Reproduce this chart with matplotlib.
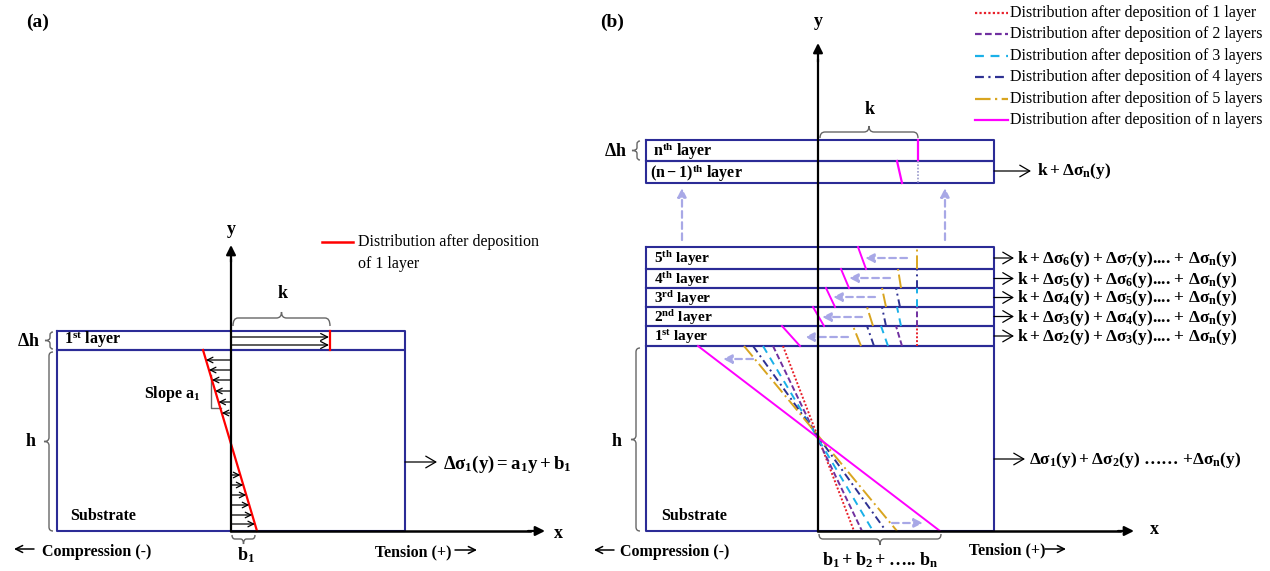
import numpy as np
import matplotlib
matplotlib.use('Agg')
import matplotlib.pyplot as plt
from matplotlib.path import Path
from matplotlib.patches import PathPatch

plt.rcParams['font.family'] = ['Liberation Serif', 'DejaVu Serif']
plt.rcParams['mathtext.fontset'] = 'custom'
plt.rcParams['mathtext.rm'] = 'Liberation Serif:bold'
plt.rcParams['mathtext.it'] = 'Liberation Serif:bold'
plt.rcParams['mathtext.bf'] = 'Liberation Serif:bold'

# ---------------- panel (a) values (pixel frame, y grows downward)
a_box_x = [57, 405]
a_layer_y = [331, 350]
a_sub_y = [350, 531]
a_axis_x = 231
a_k_x = 330
a_line_x = [203, 257]            # red line at top / bottom of substrate
a_layer_arrow_y = [337, 345]
a_comp_arrow_y = [360, 370, 380, 391, 402, 413]
a_tens_arrow_y = [475, 485, 495, 505, 515, 524]

# ---------------- panel (b) values
b_box_x = [646, 994]
b_axis_x = 818
b_top_y = [140, 161, 183]        # n-th and (n-1)-th layers
b_layer_y = [346, 326, 307, 288, 269, 247]   # bottom of 1st ... top of 5th
b_sub_y = [346, 531]
b_k_x = 917
layer_names = ['1$^{\\mathrm{st}}$ layer', '2$^{\\mathrm{nd}}$ layer', '3$^{\\mathrm{rd}}$ layer',
               '4$^{\\mathrm{th}}$ layer', '5$^{\\mathrm{th}}$ layer']
layer_sums = [r'$k + \Delta\sigma_2(y) + \Delta\sigma_3(y)$.... + $\Delta\sigma_n(y)$',
              r'$k + \Delta\sigma_3(y) + \Delta\sigma_4(y)$.... + $\Delta\sigma_n(y)$',
              r'$k + \Delta\sigma_4(y) + \Delta\sigma_5(y)$.... + $\Delta\sigma_n(y)$',
              r'$k + \Delta\sigma_5(y) + \Delta\sigma_6(y)$.... + $\Delta\sigma_n(y)$',
              r'$k + \Delta\sigma_6(y) + \Delta\sigma_7(y)$.... + $\Delta\sigma_n(y)$']

# x of each distribution inside layers 1..: (at layer bottom, at layer top)
red_layers = [(917, 917)]
purple_layers = [(902, 896), (917, 917)]
cyan_layers = [(888, 881), (901, 897), (917, 917)]
navy_layers = [(874, 867), (886, 882), (900, 896), (917, 917)]
gold_layers = [(861, 853), (873, 867), (886, 882), (901, 898), (917, 917)]
magenta_layers = [(800, 782), (824, 813), (835, 826), (849, 841), (866, 858)]
# x of each distribution in substrate: top, bottom
sub_top_x = [783, 773, 763, 753, 744, 698]
sub_bot_x = [854, 862, 873, 886, 897, 940]

dist_labels = ['Distribution after deposition of 1 layer',
               'Distribution after deposition of 2 layers',
               'Distribution after deposition of 3 layers',
               'Distribution after deposition of 4 layers',
               'Distribution after deposition of 5 layers',
               'Distribution after deposition of n layers']
dist_colors = ['#e8202a', '#7030a0', '#1ab0e8', '#2e3192', '#d9a520', '#ff00ff']
dist_ls = [(0, (1, 1)), (0, (3, 1.5)), (0, (4, 3)), (0, (4, 2, 1, 2)), (0, (7, 2, 1, 2)), '-']

# lavender shift arrows: (from x, to x, y)
shift_arrows = [(848, 805, 337), (862, 822, 317), (875, 833, 297), (890, 849, 278),
                (907, 865, 258), (753, 723, 359), (892, 923, 523)]

NAVY = '#2b2b96'
LAV = '#a8a8e6'
GRAY = '#666666'

fig = plt.figure(figsize=(12.7, 5.71), dpi=100)
ax = fig.add_axes([0, 0, 1, 1])
ax.set_xlim(0, 1270)
ax.set_ylim(571, 0)
ax.axis('off')


def box(x0, x1, y0, y1):
    ax.plot([x0, x1, x1, x0, x0], [y0, y0, y1, y1, y0], color=NAVY, lw=1.5, zorder=2)


def arrow(tail, tip, style='-|>', color='k', lw=1.0, ms=12, ls='-', z=5):
    ax.annotate('', xy=tip, xytext=tail,
                arrowprops=dict(arrowstyle=style, color=color, lw=lw, mutation_scale=ms,
                                shrinkA=0, shrinkB=0, linestyle=ls), zorder=z)


def brace(p0, p1, nvec, depth=5, tick=6, r=5):
    p0 = np.array(p0, float)
    p1 = np.array(p1, float)
    L = np.linalg.norm(p1 - p0)
    u = (p1 - p0) / L
    n = np.array(nvec, float)
    loc = [(0, -depth), (0, 0), (r, 0), (L / 2 - r, 0), (L / 2, 0), (L / 2, tick),
           (L / 2, 0), (L / 2 + r, 0), (L - r, 0), (L, 0), (L, -depth)]
    codes = [Path.MOVETO, Path.CURVE3, Path.CURVE3, Path.LINETO, Path.CURVE3, Path.CURVE3,
             Path.CURVE3, Path.CURVE3, Path.LINETO, Path.CURVE3, Path.CURVE3]
    verts = [p0 + s * u + t * n for s, t in loc]
    ax.add_patch(PathPatch(Path(verts, codes), fill=False, edgecolor=GRAY, lw=1.0, zorder=3))


BOLD = dict(fontweight='bold', color='black')
SMALL_HEAD = '->,head_length=0.5,head_width=0.25'

# ============ panel (a)
ax.text(38, 22, '(a)', fontsize=14, ha='center', va='center', **BOLD)
box(a_box_x[0], a_box_x[1], a_layer_y[0], a_layer_y[1])
box(a_box_x[0], a_box_x[1], a_sub_y[0], a_sub_y[1])
ax.text(64, 340, layer_names[0], fontsize=11.5, ha='left', va='center', **BOLD)
ax.text(70, 516, 'Substrate', fontsize=11.5, ha='left', va='center', **BOLD)

# red distribution
ax.plot([a_k_x, a_k_x], a_layer_y, color='red', lw=1.6, zorder=4)
ax.plot(a_line_x, a_sub_y, color='red', lw=1.6, zorder=4)
for y in a_layer_arrow_y:
    arrow((a_axis_x, y), (a_k_x - 1, y), style=SMALL_HEAD, lw=0.9, ms=10)


def a_red_x(y):
    return a_line_x[0] + (y - a_sub_y[0]) * (a_line_x[1] - a_line_x[0]) / (a_sub_y[1] - a_sub_y[0])


for y in a_comp_arrow_y + a_tens_arrow_y:
    arrow((a_axis_x, y), (a_red_x(y), y), style=SMALL_HEAD, lw=0.9, ms=8)

# slope marker
ax.plot([211, 211, 221], [375, 408, 408], color=GRAY, lw=1.0, zorder=3)
ax.text(144, 394, 'Slope $a_1$', fontsize=11.5, ha='left', va='center', **BOLD)

# axes
ax.plot([a_axis_x, a_axis_x], [a_sub_y[1], 260], color='k', lw=1.6, zorder=6)
arrow((a_axis_x, 262), (a_axis_x, 245), lw=1.6, ms=14, z=6)
ax.plot([a_axis_x, 530], [a_sub_y[1], a_sub_y[1]], color='k', lw=1.8, zorder=6)
arrow((528, a_sub_y[1]), (545, a_sub_y[1]), lw=1.6, ms=14, z=6)
ax.text(a_axis_x, 229, 'y', fontsize=13, ha='center', va='center', **BOLD)
ax.text(558, 533, 'x', fontsize=13, ha='center', va='center', **BOLD)

# braces
brace((233, 318), (330, 318), (0, -1), depth=8, tick=6)
ax.text(283, 293, 'k', fontsize=13, ha='center', va='center', **BOLD)
brace((50, 332), (50, 349), (-1, 0), depth=3, tick=5, r=3)
ax.text(28, 342, r'$\Delta$h', fontsize=13, ha='center', va='center', **BOLD)
brace((49, 352), (49, 531), (-1, 0), depth=4, tick=5, r=4)
ax.text(31, 441, 'h', fontsize=13, ha='center', va='center', **BOLD)
brace((232, 539), (255, 539), (0, 1), depth=4, tick=5, r=3)
ax.text(246, 555, '$b_1$', fontsize=13, ha='center', va='center', **BOLD)

arrow((34, 549), (14, 549), style=SMALL_HEAD, lw=1.1, ms=10)
ax.text(42, 552, 'Compression (-)', fontsize=11.5, ha='left', va='center', **BOLD)
ax.text(375, 552, 'Tension (+)', fontsize=11.5, ha='left', va='center', **BOLD)
arrow((455, 550), (477, 550), style=SMALL_HEAD, lw=1.1, ms=10)

arrow((a_box_x[1], 462), (437, 462), style='->,head_length=0.6,head_width=0.35', lw=0.9)
ax.text(443, 464, r'$\Delta\sigma_1(y) = a_1y + b_1$', fontsize=13.5, ha='left', va='center')

# legend (a)
ax.plot([322, 353], [242, 242], color='red', lw=1.8)
ax.text(358, 242, 'Distribution after deposition', fontsize=11.5, ha='left', va='center')
ax.text(358, 264, 'of 1 layer', fontsize=11.5, ha='left', va='center')

# ============ panel (b)
ax.text(612, 22, '(b)', fontsize=14, ha='center', va='center', **BOLD)
box(b_box_x[0], b_box_x[1], b_top_y[0], b_top_y[1])
box(b_box_x[0], b_box_x[1], b_top_y[1], b_top_y[2])
for i in range(5):
    box(b_box_x[0], b_box_x[1], b_layer_y[i + 1], b_layer_y[i])
    ymid = (b_layer_y[i + 1] + b_layer_y[i]) / 2
    ax.text(654, ymid + 1, layer_names[i], fontsize=11, ha='left', va='center', **BOLD)
    arrow((b_box_x[1], ymid), (b_box_x[1] + 20, ymid),
          style='->,head_length=0.6,head_width=0.35', lw=0.9)
    ax.text(b_box_x[1] + 23, ymid + 1, layer_sums[i], fontsize=12.5, ha='left', va='center',
            **BOLD)
box(b_box_x[0], b_box_x[1], b_sub_y[0], b_sub_y[1])
ax.text(653, 151, 'n$^{\\mathrm{th}}$ layer', fontsize=11.5, ha='left', va='center', **BOLD)
ax.text(650, 173, '$(n-1)^{\\mathrm{th}}$ layer', fontsize=11.5, ha='left', va='center', **BOLD)
ax.text(661, 516, 'Substrate', fontsize=11.5, ha='left', va='center', **BOLD)

# distributions inside layers
all_layers = [red_layers, purple_layers, cyan_layers, navy_layers, gold_layers, magenta_layers]
for segs, c, ls in zip(all_layers, dist_colors, dist_ls):
    for j, (xb, xt) in enumerate(segs):
        ax.plot([xb, xt], [b_layer_y[j], b_layer_y[j + 1]], color=c, ls=ls, lw=1.4, zorder=4)
for xt, xb, c, ls in zip(sub_top_x, sub_bot_x, dist_colors, dist_ls):
    ax.plot([xt, xb], b_sub_y, color=c, ls=ls, lw=1.4, zorder=4)

# top layers
ax.plot([918, 918], [b_top_y[0], b_top_y[1]], color='#ff00ff', lw=1.6, zorder=4)
ax.plot([902, 897], [b_top_y[2], b_top_y[1]], color='#ff00ff', lw=1.6, zorder=4)
ax.plot([918, 918], [b_top_y[1], b_top_y[2]], color='#9999cc', ls=(0, (1, 1)), lw=1.2, zorder=4)

for x0, x1, y in shift_arrows:
    arrow((x0, y), (x1, y), color=LAV, lw=1.6, ms=13, ls=(0, (3, 2)))
for x in [682, 945]:
    arrow((x, 240), (x, 188), color=LAV, lw=1.6, ms=13, ls=(0, (3, 2)))

# axes (b)
ax.plot([b_axis_x, b_axis_x], [b_sub_y[1], 60], color='k', lw=1.6, zorder=6)
arrow((b_axis_x, 62), (b_axis_x, 43), lw=1.6, ms=14, z=6)
ax.plot([b_axis_x, 1120], [b_sub_y[1], b_sub_y[1]], color='k', lw=1.8, zorder=6)
arrow((1118, b_sub_y[1]), (1134, b_sub_y[1]), lw=1.6, ms=14, z=6)
ax.text(b_axis_x, 22, 'y', fontsize=13, ha='center', va='center', **BOLD)
ax.text(1154, 530, 'x', fontsize=13, ha='center', va='center', **BOLD)

brace((820, 132), (918, 132), (0, -1), depth=6, tick=6)
ax.text(870, 110, 'k', fontsize=13, ha='center', va='center', **BOLD)
brace((637, 141), (637, 160), (-1, 0), depth=3, tick=5, r=3)
ax.text(615, 151, r'$\Delta$h', fontsize=13, ha='center', va='center', **BOLD)
brace((636, 348), (636, 531), (-1, 0), depth=4, tick=5, r=4)
ax.text(617, 441, 'h', fontsize=13, ha='center', va='center', **BOLD)
brace((819, 539), (941, 539), (0, 1), depth=5, tick=6, r=4)
ax.text(880, 560, r'$b_1 + b_2 +$….. $b_n$', fontsize=13, ha='center', va='center', **BOLD)

arrow((614, 550), (594, 550), style=SMALL_HEAD, lw=1.1, ms=10)
ax.text(620, 552, 'Compression (-)', fontsize=11.5, ha='left', va='center', **BOLD)
ax.text(969, 550, 'Tension (+)', fontsize=11.5, ha='left', va='center', **BOLD)
arrow((1045, 549), (1066, 549), style=SMALL_HEAD, lw=1.1, ms=10)

arrow((b_box_x[1], 171), (1031, 171), style='->,head_length=0.6,head_width=0.35', lw=0.9)
ax.text(1037, 171, r'$k + \Delta\sigma_n(y)$', fontsize=12.5, ha='left', va='center')
arrow((b_box_x[1], 459), (1025, 459), style='->,head_length=0.6,head_width=0.35', lw=0.9)
ax.text(1029, 460, r'$\Delta\sigma_1(y) + \Delta\sigma_2(y)$ …… +$\Delta\sigma_n(y)$',
        fontsize=12.5, ha='left', va='center', **BOLD)

# legend (b)
leg_y = [13, 34, 56, 77, 99, 120]
for y, lab, c, ls in zip(leg_y, dist_labels, dist_colors, dist_ls):
    ax.plot([975, 1008], [y, y], color=c, ls=ls, lw=1.6)
    ax.text(1010, y, lab, fontsize=11.5, ha='left', va='center')

fig.savefig('out.png', dpi=100)
